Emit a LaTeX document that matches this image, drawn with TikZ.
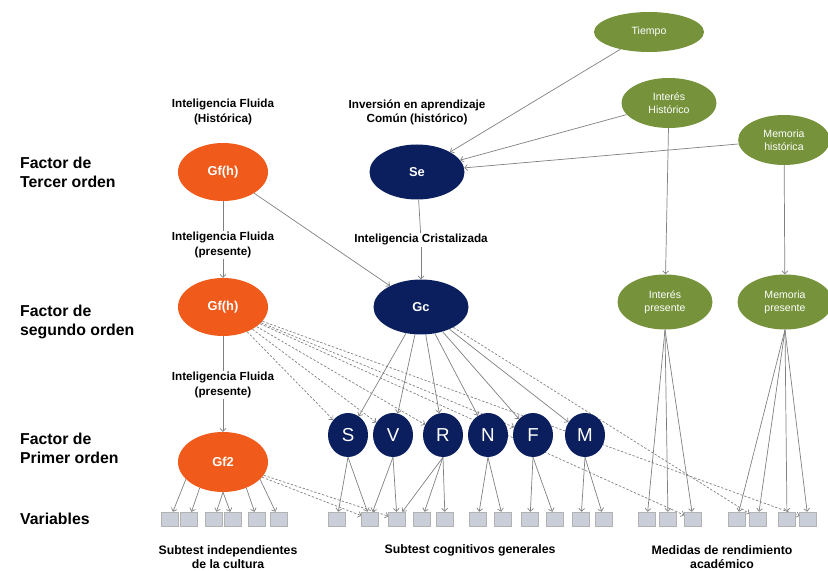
\documentclass[tikz,border=0pt]{standalone}
\usepackage{fontspec}
\setmainfont{Liberation Sans}
\usetikzlibrary{arrows.meta}
\usetikzlibrary{shapes.geometric}
\usetikzlibrary{backgrounds}

\definecolor{gforange}{HTML}{F05A1A}
\definecolor{gcnavy}{HTML}{0B1F5E}
\definecolor{histgreen}{HTML}{76933C}
\definecolor{boxgray}{HTML}{C9CED8}
\definecolor{linegray}{HTML}{808080}

\tikzset{
	gfnode/.style={ellipse, fill=gforange, text=white, inner sep=0pt,
		minimum width=2.7cm, minimum height=1.74cm, font=\fontsize{11}{11}\selectfont\bfseries},
	gcnode/.style={ellipse, fill=gcnavy, text=white, inner sep=0pt,
		minimum width=2.85cm, minimum height=1.65cm, font=\fontsize{11}{11}\selectfont\bfseries},
	abil/.style={ellipse, fill=gcnavy, text=white, inner sep=0pt,
		minimum width=1.2cm, minimum height=1.32cm, font=\fontsize{16}{16}\selectfont},
	histnode/.style={ellipse, fill=histgreen, text=white, inner sep=0pt, align=center,
		minimum width=2.85cm, minimum height=1.5cm, font=\fontsize{9}{11}\selectfont},
	varbox/.style={rectangle, fill=boxgray, draw=gray!60, inner sep=0pt,
		minimum width=0.5cm, minimum height=0.42cm},
	lbl/.style={align=center, font=\fontsize{10}{12}\selectfont\bfseries, inner sep=1pt},
	rowlbl/.style={align=left, anchor=west, font=\fontsize{13.5}{16}\selectfont\bfseries},
	edge/.style={draw=linegray, line width=0.6pt},
	dedge/.style={draw=linegray, line width=0.6pt, dash pattern=on 2pt off 1.5pt, ->}
}

\begin{document}
\begin{tikzpicture}[x=0.03cm, y=-0.03cm, >={Straight Barb[length=2.5pt, width=5pt]}]
	\useasboundingbox (0,0) rectangle (828,571);
	% draw row labels
	\node[rowlbl] (third) at (16,172) {Factor de\\Tercer orden};
	\node[rowlbl] (second) at (16,322) {Factor de\\segundo orden};
	\node[rowlbl] (first) at (16,448) {Factor de\\Primer orden};
	\node[rowlbl] (vars) at (16,519) {Variables};
	% draw factors
	\node[gfnode] (gfht) at (223,172) {Gf(h)};
	\node[gfnode] (gfhm) at (223,307) {Gf(h)};
	\node[gfnode, minimum height=1.8cm] (gf2) at (223,462) {Gf2};
	\node[gcnode] (se) at (417,172) {Se};
	\node[gcnode] (gc) at (421,307) {Gc};
	% draw green factors
	\node[histnode, minimum width=3.3cm, minimum height=1.2cm] (tiempo) at (649,32) {Tiempo};
	\node[histnode] (inth) at (669,103) {Interés\\Histórico};
	\node[histnode, minimum width=2.75cm] (memh) at (784,140) {Memoria\\histórica};
	\node[histnode, minimum height=1.65cm] (intp) at (665,302) {Interés\\presente};
	\node[histnode, minimum height=1.65cm] (memp) at (785,302) {Memoria\\presente};
	% draw first order abilities
	\node[abil] (S) at (348,435) {S};
	\node[abil] (V) at (393,435) {V};
	\node[abil] (R) at (443,435) {R};
	\node[abil] (N) at (488,435) {N};
	\node[abil] (F) at (533,435) {F};
	\node[abil] (M) at (585,435) {M};
	% draw labels
	\node[lbl] (lfh) at (223,112) {Inteligencia Fluida\\(Histórica)};
	\node[lbl] (lse) at (417,112) {Inversión en aprendizaje\\Común (histórico)};
	\node[lbl, fill=white] (lfp1) at (223,245) {Inteligencia Fluida\\(presente)};
	\node[lbl, fill=white] (lgc) at (421,240) {Inteligencia Cristalizada};
	\node[lbl, fill=white] (lfp2) at (223,385) {Inteligencia Fluida\\(presente)};
	\node[lbl, font=\fontsize{10.5}{12}\selectfont\bfseries] (lsub) at (228,557) {Subtest independientes\\de la cultura};
	\node[lbl, font=\fontsize{10.5}{12}\selectfont\bfseries] (lcog) at (470,550) {Subtest cognitivos generales};
	\node[lbl, font=\fontsize{10.5}{12}\selectfont\bfseries] (lrend) at (722,557) {Medidas de rendimiento\\académico};
	% draw variables
	\foreach \x [count=\i] in {170,189,214,233,257,279}
		\node[varbox] (a\i) at (\x,519) {};
	\foreach \x [count=\i] in {337,370,397,422,445,478,503,530,555,581,604}
		\node[varbox] (c\i) at (\x,519) {};
	\foreach \x [count=\i] in {647,668,693}
		\node[varbox] (r\i) at (\x,519) {};
	\foreach \x [count=\i] in {737,758,787,808}
		\node[varbox] (m\i) at (\x,519) {};
	% draw vertical chains
	\draw[edge] (gfht) -- (lfp1);
	\draw[edge, ->] (lfp1) -- (gfhm);
	\draw[edge] (gfhm) -- (lfp2);
	\draw[edge, ->] (lfp2) -- (gf2);
	\draw[edge] (se) -- (lgc);
	\draw[edge, ->] (lgc) -- (gc);
	\draw[edge, ->] (gfht) -- (gc);
	% draw historical inputs
	\draw[edge, ->] (tiempo) -- (se);
	\draw[edge, ->] (inth) -- (se);
	\draw[edge, ->] (memh) -- (se);
	\draw[edge, ->] (inth) -- (intp);
	\draw[edge, ->] (memh) -- (memp);
	% draw crystallized loadings
	\foreach \n in {S,V,R,N,F,M}
		\draw[edge, ->] (gc) -- (\n);
	% draw fluid loadings (dashed, behind the abilities)
	\begin{pgfonlayer}{background}
		\foreach \n in {S,V,R,F}
			\draw[dedge] (gfhm) -- (\n);
		\draw[dedge] (gfhm) -- (r3);
		\draw[dedge] (gfhm) -- (m4);
		\draw[dedge] (gc) -- (m2);
		\draw[dedge] (gf2) -- (c2);
		\draw[dedge] (gf2) -- (c3);
	\end{pgfonlayer}
	% draw variable loadings
	\draw[edge, ->] (gf2.205) -- (a1);
	\draw[edge, ->] (gf2.228) -- (a2);
	\draw[edge, ->] (gf2.south) -- (a3);
	\draw[edge, ->] (gf2.south) -- (a4);
	\draw[edge, ->] (gf2.312) -- (a5);
	\draw[edge, ->] (gf2.335) -- (a6);
	\draw[edge, ->] (S.south) -- (c1);
	\draw[edge, ->] (S.south) -- (c2);
	\draw[edge, ->] (V.south) -- (c2);
	\draw[edge, ->] (V.south) -- (c3);
	\draw[edge, ->] (R.south) -- (c3);
	\draw[edge, ->] (R.south) -- (c4);
	\draw[edge, ->] (R.south) -- (c5);
	\draw[edge, ->] (N.south) -- (c6);
	\draw[edge, ->] (N.south) -- (c7);
	\draw[edge, ->] (F.south) -- (c8);
	\draw[edge, ->] (F.south) -- (c9);
	\draw[edge, ->] (M.south) -- (c10);
	\draw[edge, ->] (M.south) -- (c11);
	\foreach \i in {1,2,3}
		\draw[edge, ->] (intp.south) -- (r\i);
	\foreach \i in {1,2,3,4}
		\draw[edge, ->] (memp.south) -- (m\i);
\end{tikzpicture}
\end{document}
